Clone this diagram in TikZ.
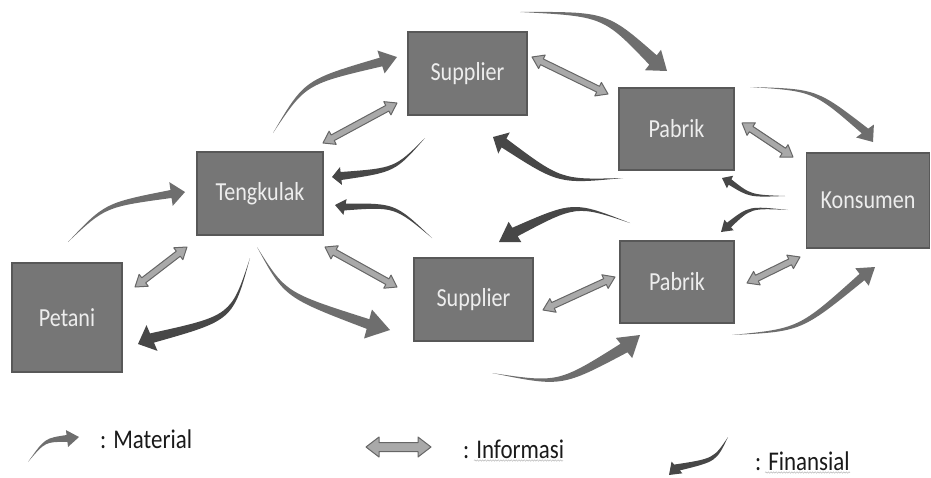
\documentclass[tikz,border=0pt]{standalone}
\usepackage{fontspec}
\setmainfont{Carlito}[FakeStretch=0.85]
\usetikzlibrary{calc,decorations.pathmorphing}
\definecolor{boxfill}{HTML}{767676}
\definecolor{boxline}{HTML}{585858}
\definecolor{matcol}{HTML}{6E6E6E}
\definecolor{fincol}{HTML}{474747}
\definecolor{infofill}{HTML}{A9A9A9}
\definecolor{infoline}{HTML}{666666}
\definecolor{txtcol}{HTML}{1A1A1A}
% tapered curved arrow: style, tail, control, head base, tip, shaft half width, head half width
\newcommand\taper[7]{%
  \path ($(#4)!#6!90:(#5)$) coordinate (tL)
        ($(#4)!#6!-90:(#5)$) coordinate (tR)
        ($(#4)!#7!90:(#5)$) coordinate (hL)
        ($(#4)!#7!-90:(#5)$) coordinate (hR);
  \path ($(#3)+0.5*(tL)-0.5*(#4)$) coordinate (cL)
        ($(#3)+0.5*(tR)-0.5*(#4)$) coordinate (cR);
  \fill[#1] (#2) .. controls (cL) .. (tL) -- (hL) -- (#5) -- (hR) -- (tR) .. controls (cR) .. (#2) -- cycle;
}
% double block arrow: end A, end B, shaft half width, head half width, head length
\newcommand\infoarrow[5]{%
  \path ($(#1)!#5!(#2)$) coordinate (iA) ($(#2)!#5!(#1)$) coordinate (iB);
  \filldraw[info] (#1) -- ($(iA)!#4!90:(#2)$) -- ($(iA)!#3!90:(#2)$)
     -- ($(iB)!#3!-90:(#1)$) -- ($(iB)!#4!-90:(#1)$) -- (#2)
     -- ($(iB)!#4!90:(#1)$) -- ($(iB)!#3!90:(#1)$)
     -- ($(iA)!#3!-90:(#2)$) -- ($(iA)!#4!-90:(#2)$) -- cycle;
}
\begin{document}
\begin{tikzpicture}[x=1pt,y=-1pt,
  box/.style={draw=boxline,line width=1.2pt,fill=boxfill,text=white!93!black,
    font=\fontsize{26}{31}\selectfont,inner sep=0pt},
  mat/.style={fill=matcol},
  fin/.style={fill=fincol},
  info/.style={fill=infofill,draw=infoline,line width=1pt,line join=round},
  legendtext/.style={text=txtcol,font=\fontsize{27}{32}\selectfont,inner sep=0pt,anchor=base west},
  squig/.style={draw=gray!55,line width=0.5pt,decorate,decoration={snake,amplitude=0.7pt,segment length=2.6pt}}]
\useasboundingbox (0,0) rectangle (931,477);

% ---- material arrows
\coordinate (m1t) at (68,242);  \coordinate (m1c) at (105,205); \coordinate (m1b) at (171,194); \coordinate (m1h) at (185,192);
\coordinate (m2t) at (273,133); \coordinate (m2c) at (305,82);  \coordinate (m2b) at (381,62);  \coordinate (m2h) at (397,57);
\coordinate (m3t) at (520,12);  \coordinate (m3c) at (605,14);  \coordinate (m3b) at (653,60);  \coordinate (m3h) at (667,71);
\coordinate (m4t) at (750,87);  \coordinate (m4c) at (815,90);  \coordinate (m4b) at (865,131); \coordinate (m4h) at (873,142);
\coordinate (m5t) at (257,247); \coordinate (m5c) at (285,295); \coordinate (m5b) at (368,324); \coordinate (m5h) at (390,330);
\coordinate (m6t) at (492,373); \coordinate (m6c) at (560,385); \coordinate (m6b) at (624,348); \coordinate (m6h) at (640,335);
\coordinate (m7t) at (732,335); \coordinate (m7c) at (800,330); \coordinate (m7b) at (862,277); \coordinate (m7h) at (875,267);
\taper{mat}{m1t}{m1c}{m1b}{m1h}{4pt}{12pt}
\taper{mat}{m2t}{m2c}{m2b}{m2h}{4.5pt}{12pt}
\taper{mat}{m3t}{m3c}{m3b}{m3h}{6pt}{13pt}
\taper{mat}{m4t}{m4c}{m4b}{m4h}{4pt}{11pt}
\taper{mat}{m5t}{m5c}{m5b}{m5h}{5pt}{15pt}
\taper{mat}{m6t}{m6c}{m6b}{m6h}{5.5pt}{13pt}
\taper{mat}{m7t}{m7c}{m7b}{m7h}{4pt}{11pt}

% ---- financial arrows
\coordinate (f1t) at (250,258); \coordinate (f1c) at (232,318); \coordinate (f1b) at (152,338); \coordinate (f1h) at (138,344);
\coordinate (f2t) at (425,138); \coordinate (f2c) at (395,170); \coordinate (f2b) at (341,176); \coordinate (f2h) at (332,177);
\coordinate (f3t) at (623,178); \coordinate (f3c) at (560,182); \coordinate (f3b) at (504,143); \coordinate (f3h) at (493,137);
\coordinate (f4t) at (432,238); \coordinate (f4c) at (395,205); \coordinate (f4b) at (345,207); \coordinate (f4h) at (335,205);
\coordinate (f5t) at (630,223); \coordinate (f5c) at (575,203); \coordinate (f5b) at (515,232); \coordinate (f5h) at (499,242);
\coordinate (f6t) at (785,196); \coordinate (f6c) at (750,196); \coordinate (f6b) at (730,182); \coordinate (f6h) at (722,178);
\coordinate (f7t) at (788,210); \coordinate (f7c) at (750,207); \coordinate (f7b) at (729,225); \coordinate (f7h) at (721,232);
\taper{fin}{f1t}{f1c}{f1b}{f1h}{5pt}{14pt}
\taper{fin}{f2t}{f2c}{f2b}{f2h}{4pt}{9pt}
\taper{fin}{f3t}{f3c}{f3b}{f3h}{5pt}{12pt}
\taper{fin}{f4t}{f4c}{f4b}{f4h}{3.5pt}{8pt}
\taper{fin}{f5t}{f5c}{f5b}{f5h}{5pt}{12pt}
\taper{fin}{f6t}{f6c}{f6b}{f6h}{3pt}{7pt}
\taper{fin}{f7t}{f7c}{f7b}{f7h}{3pt}{7pt}

% ---- information arrows
\coordinate (i1a) at (135,287); \coordinate (i1b) at (187,247);
\coordinate (i2a) at (323,143); \coordinate (i2b) at (397,103);
\coordinate (i3a) at (532,57);  \coordinate (i3b) at (608,94);
\coordinate (i4a) at (325,247); \coordinate (i4b) at (397,287);
\coordinate (i5a) at (543,310); \coordinate (i5b) at (615,277);
\coordinate (i6a) at (742,123); \coordinate (i6b) at (793,157);
\coordinate (i7a) at (747,283); \coordinate (i7b) at (800,257);
\infoarrow{i1a}{i1b}{3.2pt}{7.5pt}{11pt}
\infoarrow{i2a}{i2b}{3.2pt}{7.5pt}{11pt}
\infoarrow{i3a}{i3b}{3.2pt}{7.5pt}{11pt}
\infoarrow{i4a}{i4b}{3.2pt}{7.5pt}{11pt}
\infoarrow{i5a}{i5b}{3.2pt}{7.5pt}{11pt}
\infoarrow{i6a}{i6b}{3.2pt}{7.5pt}{11pt}
\infoarrow{i7a}{i7b}{3.2pt}{7.5pt}{11pt}

% ---- boxes
\node[box,minimum width=110pt,minimum height=109pt] (petani) at (67,317.5) {Petani};
\node[box,minimum width=126pt,minimum height=83pt] (tengkulak) at (260,193.5) {Tengkulak};
\node[box,minimum width=119pt,minimum height=83pt] (supplier1) at (467.5,73.5) {Supplier};
\node[box,minimum width=115pt,minimum height=82pt] (pabrik1) at (676.5,129) {Pabrik};
\node[box,minimum width=123pt,minimum height=95pt] (konsumen) at (868,200.5) {Konsumen};
\node[box,minimum width=114pt,minimum height=82pt] (pabrik2) at (677,282) {Pabrik};
\node[box,minimum width=119pt,minimum height=83pt] (supplier2) at (473.5,299.5) {Supplier};

% ---- legend
\coordinate (lmt) at (28,462); \coordinate (lmc) at (45,440); \coordinate (lmb) at (67,438.5); \coordinate (lmh) at (79,437);
\taper{mat}{lmt}{lmc}{lmb}{lmh}{3.5pt}{8.5pt}
\node[legendtext] (lmat) at (100,448) {: Material};
\coordinate (lia) at (366,447); \coordinate (lib) at (431,447);
\infoarrow{lia}{lib}{4.5pt}{10pt}{13pt}
\node[legendtext] (linf) at (463,458) {: Informasi};
\coordinate (lft) at (728,437); \coordinate (lfc) at (715,460); \coordinate (lfb) at (677,467.5); \coordinate (lfh) at (669,475);
\taper{fin}{lft}{lfc}{lfb}{lfh}{4pt}{8pt}
\node[legendtext] (lfin) at (755,470) {: Finansial};
\draw[squig] (474,460.5) -- (563,460.5);
\draw[squig] (765,472.5) -- (850,472.5);
\end{tikzpicture}
\end{document}
